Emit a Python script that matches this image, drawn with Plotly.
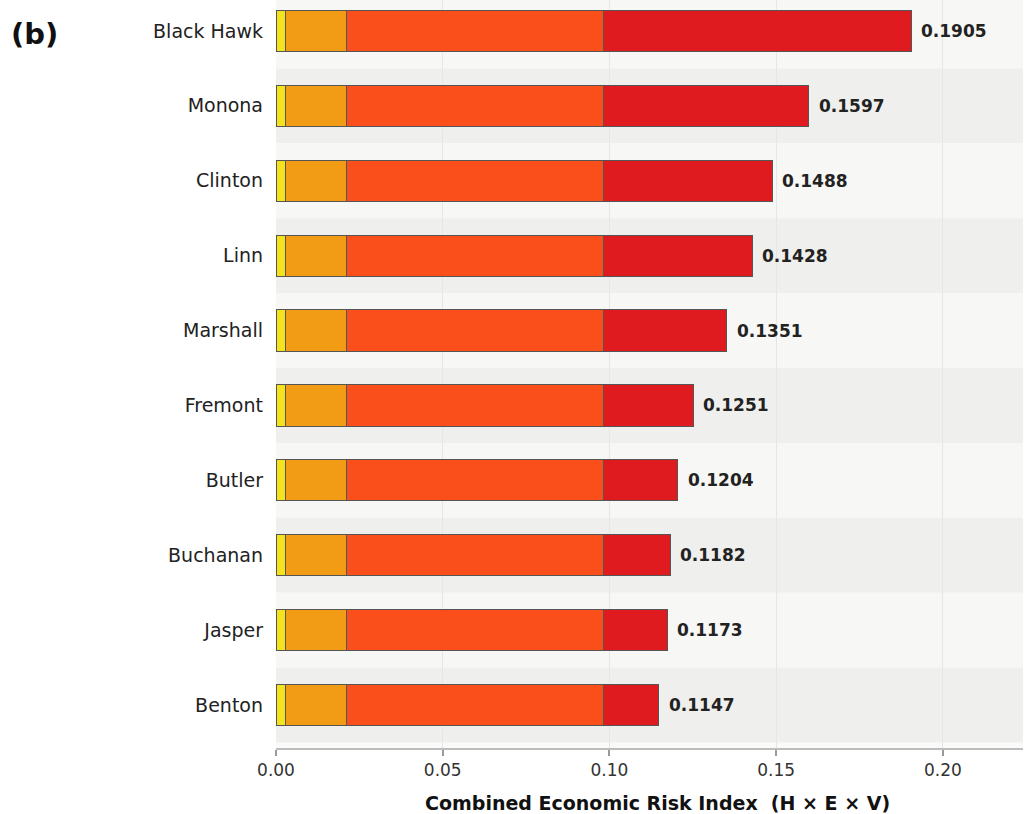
import plotly.graph_objects as go

# Counties ranked by combined economic risk (top to bottom)
counties = ["Black Hawk", "Monona", "Clinton", "Linn", "Marshall",
            "Fremont", "Butler", "Buchanan", "Jasper", "Benton"]
total_risk = [0.1905, 0.1597, 0.1488, 0.1428, 0.1351,
              0.1251, 0.1204, 0.1182, 0.1173, 0.1147]

# Stacked components of the index
comp_low = [0.0028] * 10
comp_moderate = [0.0182] * 10
comp_high = [0.0773] * 10
comp_severe = [t - (a + b + c) for t, a, b, c in
               zip(total_risk, comp_low, comp_moderate, comp_high)]

seg_colors = ["#f4e21c", "#f29c16", "#fb4f1b", "#e01b1f"]
segments = [comp_low, comp_moderate, comp_high, comp_severe]

n = len(counties)
ypos = [n - 1 - i for i in range(n)]

fig = go.Figure()
for vals, col in zip(segments, seg_colors):
    fig.add_trace(go.Bar(
        x=vals, y=ypos, orientation="h", width=0.55,
        marker=dict(color=col, line=dict(color="#555555", width=1)),
        showlegend=False, hoverinfo="skip",
    ))

# Alternating row bands
shapes = []
for i, y in enumerate(ypos):
    shapes.append(dict(
        type="rect", xref="paper", yref="y", x0=0, x1=1,
        y0=y - 0.5, y1=y + 0.5, layer="below", line=dict(width=0),
        fillcolor="#f7f7f5" if i % 2 == 0 else "#efefed",
    ))

annotations = []
for y, t in zip(ypos, total_risk):
    annotations.append(dict(
        x=t, y=y, xref="x", yref="y", text=f"{t:.4f}", showarrow=False,
        xanchor="left", xshift=8,
        font=dict(family="DejaVu Sans", size=17, color="#222222", weight="bold"),
    ))
annotations.append(dict(
    x=-0.357, y=0.955, xref="paper", yref="paper", text="(b)",
    showarrow=False, xanchor="left", yanchor="middle",
    font=dict(family="DejaVu Sans", size=29, color="#111111", weight="bold"),
))
# x-axis title
annotations.append(dict(
    x=0.511, y=-0.0735, xref="paper", yref="paper",
    text="Combined Economic Risk Index  (H × E × V)", showarrow=False,
    xanchor="center", yanchor="middle",
    font=dict(family="DejaVu Sans", size=19, color="#111111", weight="bold"),
))

fig.update_layout(
    width=1025, height=814,
    margin=dict(l=276, r=2, t=0, b=66),
    barmode="stack",
    paper_bgcolor="white",
    plot_bgcolor="#fafaf9",
    shapes=shapes,
    annotations=annotations,
    font=dict(family="DejaVu Sans", color="#222222"),
)
fig.update_xaxes(
    range=[0, 0.224], tickvals=[0, 0.05, 0.1, 0.15, 0.2], tickformat=".2f",
    showgrid=True, gridcolor="#e6e6e6", gridwidth=1,
    showline=True, linecolor="#bdbdbd", linewidth=2,
    ticks="outside", ticklen=6, tickcolor="#9a9a9a", tickwidth=2,
    tickfont=dict(size=17, color="#333333"), zeroline=False,
)
fig.update_yaxes(
    range=[-0.573, 9.413], tickvals=ypos, ticktext=counties,
    showgrid=False, zeroline=False, showline=False,
    ticks="", ticklabelstandoff=12,
    tickfont=dict(size=19, color="#222222"),
)

fig.write_html("out.html")
